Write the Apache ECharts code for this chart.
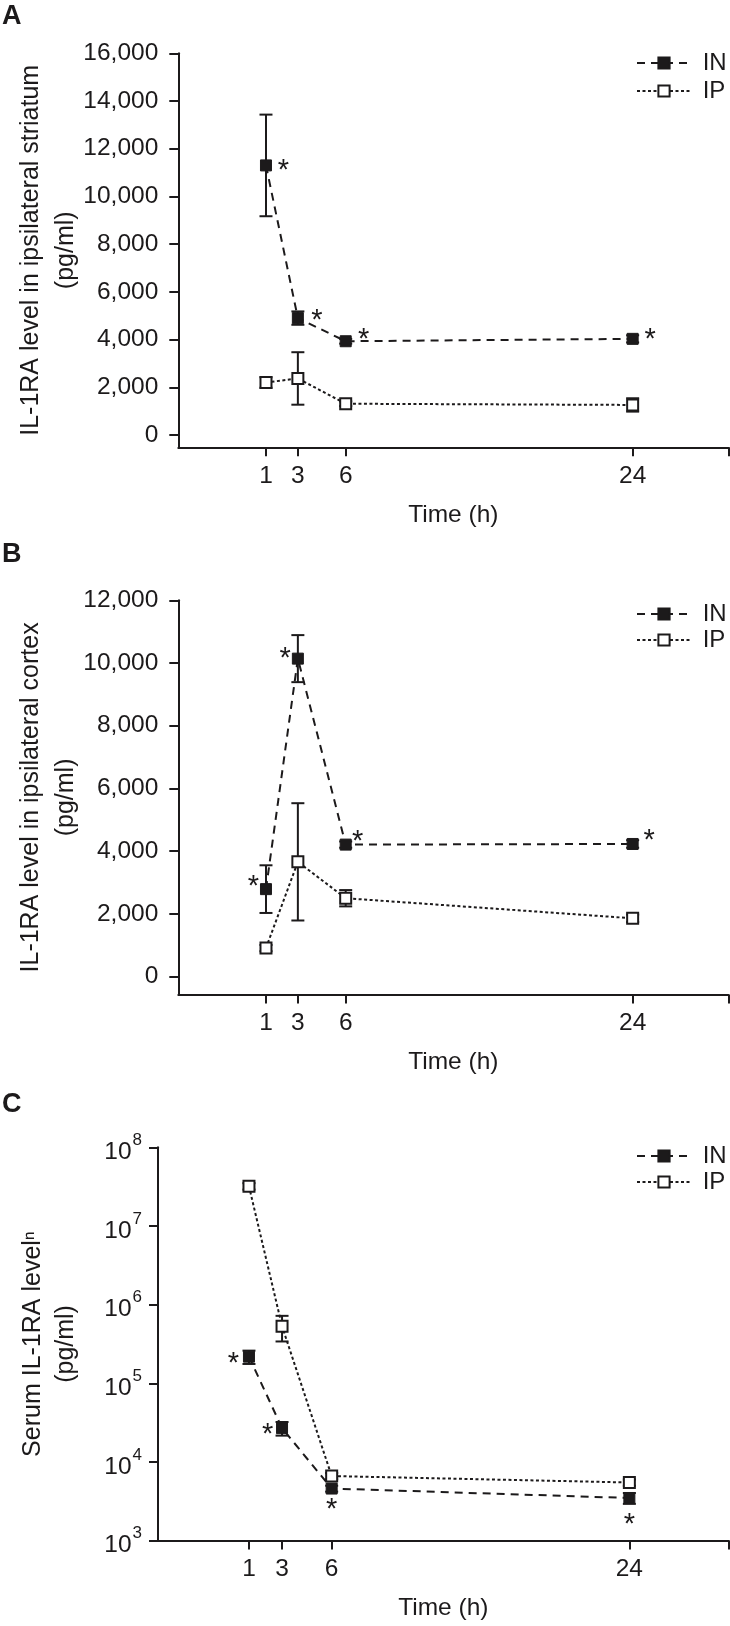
<!DOCTYPE html>
<html>
<head>
<meta charset="utf-8">
<script src="https://cdn.jsdelivr.net/npm/echarts@6/dist/echarts.min.js"></script>
<style>
html,body{margin:0;padding:0;background:#fff;}
#chart{width:730px;height:1626px;}
</style>
</head>
<body>
<div id="chart"></div>
<script>
// ---------------- data ----------------
const hours = [1, 3, 6, 24];
const xTickLabels = [1, 3, 6, 24];
const xTickMarks = [1, 3, 6, 24, 30];
const seriesNames = ['IN', 'IP'];
const panelLetters = ['A', 'B', 'C'];
const xTitle = 'Time (h)';

// Panel A: ipsilateral striatum (pg/ml), mean and SEM
const striatumIN = [11300, 4900, 3930, 4030];
const striatumINsem = [2130, 280, 100, 150];
const striatumIP = [2200, 2370, 1310, 1260];
const striatumIPsem = [220, 1100, 100, 280];
const striatumTicks = [0, 2000, 4000, 6000, 8000, 10000, 12000, 14000, 16000];
const striatumSig = [true, true, true, true];
const striatumTitle = 'IL-1RA level in ipsilateral striatum\n(pg/ml)';

// Panel B: ipsilateral cortex (pg/ml)
const cortexIN = [2790, 10140, 4210, 4230];
const cortexINsem = [760, 750, 100, 120];
const cortexIP = [910, 3660, 2500, 1860];
const cortexIPsem = [100, 1870, 260, 120];
const cortexTicks = [0, 2000, 4000, 6000, 8000, 10000, 12000];
const cortexSig = [true, true, true, true];
const cortexTitle = 'IL-1RA level in ipsilateral cortex\n(pg/ml)';

// Panel C: serum (pg/ml), log scale
const serumIN = [218000, 26900, 4590, 3480];
const serumINsem = [42000, 5300, 400, 550];
const serumIP = [32000000, 530000, 6620, 5480];
const serumIPsem = [3000000, 190000, 600, 500];
const serumTicks = [1e3, 1e4, 1e5, 1e6, 1e7, 1e8];
const serumSig = [true, true, true, true];
const serumTitle = 'Serum IL-1RA level\u207F\n(pg/ml)';

// ---------------- layout / style ----------------
const FONT = "'Liberation Sans', Arial, Helvetica, sans-serif";
const INK = '#1c1a1b';
const STAR_SIZE = 29;
const STAR_SHIFT = 7;

const panels = [
  { IN: striatumIN, INsem: striatumINsem, IP: striatumIP, IPsem: striatumIPsem, ticks: striatumTicks, sig: striatumSig, title: striatumTitle, log: false,
    grid: { left: 178.3, top: 53.3, width: 550, height: 394 }, yMin: -516, yMax: 16000,
    letterTop: 3, legendTop: 51, legendGap: 4, nameGap: 95, nameLH: 35,
    starOff: [[17.5, -1], [19, -4], [18, -8], [17.5, -6]] },
  { IN: cortexIN, INsem: cortexINsem, IP: cortexIP, IPsem: cortexIPsem, ticks: cortexTicks, sig: cortexSig, title: cortexTitle, log: false,
    grid: { left: 178.3, top: 600.3, width: 550, height: 394.2 }, yMin: -570, yMax: 12000,
    letterTop: 541.5, legendTop: 602, legendGap: 2, nameGap: 95, nameLH: 35,
    starOff: [[-12.5, -9.5], [-12.7, -7], [12, -10], [16.5, -10]] },
  { IN: serumIN, INsem: serumINsem, IP: serumIP, IPsem: serumIPsem, ticks: serumTicks, sig: serumSig, title: serumTitle, log: true,
    grid: { left: 158, top: 1147.3, width: 570.6, height: 393.3 }, yMin: 1000, yMax: 1e8,
    letterTop: 1091.5, legendTop: 1144, legendGap: 2, nameGap: 75, nameLH: 33,
    starOff: [[-15.5, 0], [-14.4, 0], [0, 14], [0, 20]] }
];

function pairs(vals) { return hours.map((h, i) => [h, vals[i]]); }

function lineSeries(p, name, vals, filled) {
  return {
    type: 'line', name: name, xAxisIndex: p, yAxisIndex: p, z: 3,
    data: pairs(vals),
    symbol: 'rect', symbolSize: 11,
    lineStyle: { color: INK, width: 2, type: filled ? [8, 6] : [3, 2.5] },
    itemStyle: { color: filled ? INK : '#ffffff', borderColor: INK, borderWidth: filled ? 1 : 2 },
    emphasis: { disabled: true }, silent: true, animation: false
  };
}

function errorSeries(p, vals, sem) {
  return {
    type: 'custom', xAxisIndex: p, yAxisIndex: p, z: 1, silent: true, animation: false,
    data: hours.map((h, i) => [h, vals[i] - sem[i], vals[i] + sem[i]]),
    encode: { x: 0, y: [1, 2] },
    renderItem: function (params, api) {
      const x = api.value(0);
      const lo = api.coord([x, api.value(1)]);
      const hi = api.coord([x, api.value(2)]);
      const hw = 6.5;
      const st = { stroke: INK, lineWidth: 2 };
      return { type: 'group', children: [
        { type: 'line', shape: { x1: lo[0], y1: lo[1], x2: hi[0], y2: hi[1] }, style: st },
        { type: 'line', shape: { x1: lo[0] - hw, y1: lo[1], x2: lo[0] + hw, y2: lo[1] }, style: st },
        { type: 'line', shape: { x1: hi[0] - hw, y1: hi[1], x2: hi[0] + hw, y2: hi[1] }, style: st }
      ] };
    }
  };
}

function starSeries(p, vals, sig, offs) {
  return {
    type: 'custom', xAxisIndex: p, yAxisIndex: p, z: 5, silent: true, animation: false,
    data: hours.map((h, i) => [h, vals[i], i]).filter((d, i) => sig[i]),
    encode: { x: 0, y: 1 },
    renderItem: function (params, api) {
      const pt = api.coord([api.value(0), api.value(1)]);
      const o = offs[api.value(2)];
      return { type: 'text', x: pt[0] + o[0], y: pt[1] + o[1] + STAR_SHIFT,
        style: { text: '*', fontSize: STAR_SIZE, fontFamily: FONT, fill: INK, align: 'center', verticalAlign: 'middle' } };
    }
  };
}

const option = {
  animation: false,
  backgroundColor: '#ffffff',
  textStyle: { fontFamily: FONT, color: INK },
  title: panels.map((P, i) => ({
    text: panelLetters[i], left: 2, top: P.letterTop, padding: 0,
    textStyle: { fontSize: 27, fontWeight: 'bold', color: INK, fontFamily: FONT }
  })),
  legend: panels.map((P) => ({
    data: seriesNames, orient: 'vertical', left: 636, top: P.legendTop, padding: 0,
    itemWidth: 54, itemHeight: 14, itemGap: P.legendGap,
    formatter: ' {name}', selectedMode: false,
    textStyle: { fontSize: 24, lineHeight: 24, color: INK, fontFamily: FONT }
  })),
  grid: panels.map((P) => Object.assign({ containLabel: false, outerBoundsMode: 'none' }, P.grid)),
  xAxis: panels.map((P, i) => ({
    type: 'value', gridIndex: i, min: -4.5, max: 30,
    name: xTitle, nameLocation: 'middle', nameGap: 55, nameMoveOverlap: false,
    nameTextStyle: { fontSize: 24.5, color: INK, fontFamily: FONT },
    axisLine: { show: true, onZero: false, lineStyle: { color: INK, width: 2 } },
    axisTick: { show: true, length: 9, lineStyle: { color: INK, width: 2 }, customValues: xTickMarks },
    axisLabel: { show: true, margin: 16, fontSize: 24.5, color: INK, fontFamily: FONT, customValues: xTickLabels, formatter: (v) => String(v) },
    splitLine: { show: false }
  })),
  yAxis: panels.map((P, i) => {
    const ax = {
      type: P.log ? 'log' : 'value', gridIndex: i, min: P.yMin, max: P.yMax,
      name: P.title, nameLocation: 'middle', nameGap: P.nameGap, nameMoveOverlap: false,
      nameTextStyle: { fontSize: 25, lineHeight: P.nameLH, color: INK, fontFamily: FONT },
      axisLine: { show: true, onZero: false, lineStyle: { color: INK, width: 2 } },
      axisTick: { show: true, length: 9, lineStyle: { color: INK, width: 2 } },
      axisLabel: { show: true, fontSize: 24.5, color: INK, fontFamily: FONT },
      splitLine: { show: false }
    };
    if (P.log) {
      ax.logBase = 10;
      ax.axisLabel.margin = 16;
      ax.axisLabel.formatter = (v) => '{b|10}{s|' + Math.round(Math.log10(v)) + '}';
      ax.axisLabel.rich = {
        b: { fontSize: 24.5, color: INK, fontFamily: FONT, padding: [10, 0, 0, 0] },
        s: { fontSize: 17, color: INK, fontFamily: FONT, padding: [0, 0, 14, 1] }
      };
    } else {
      ax.axisLabel.margin = 20;
      ax.axisLabel.customValues = P.ticks;
      ax.axisTick.customValues = P.ticks;
      ax.axisLabel.formatter = (v) => Number(v).toLocaleString('en-US');
    }
    return ax;
  }),
  series: panels.flatMap((P, i) => [
    errorSeries(i, P.IN, P.INsem),
    errorSeries(i, P.IP, P.IPsem),
    lineSeries(i, seriesNames[0], P.IN, true),
    lineSeries(i, seriesNames[1], P.IP, false),
    starSeries(i, P.IN, P.sig, P.starOff)
  ])
};

const chart = echarts.init(document.getElementById('chart'), null, { renderer: 'canvas', width: 730, height: 1626 });
chart.setOption(option);
</script>
</body>
</html>
